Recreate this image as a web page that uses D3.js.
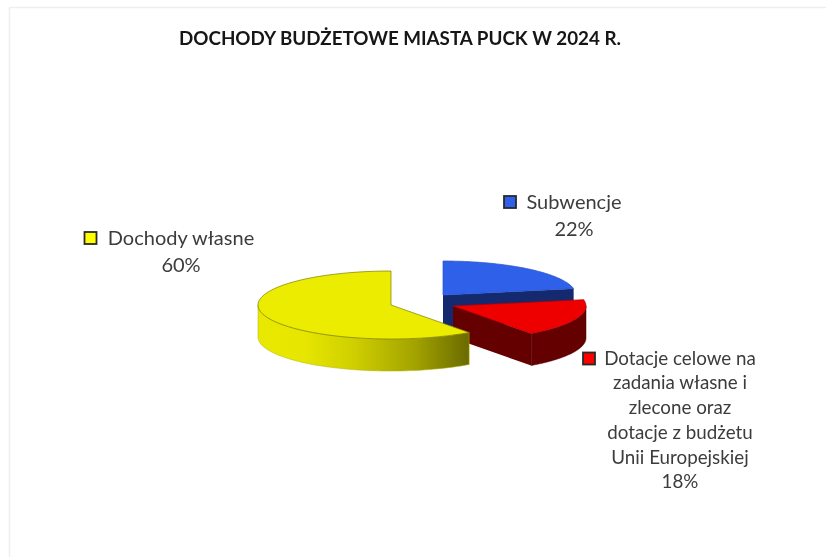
<!DOCTYPE html>
<html>
<head>
<meta charset="utf-8">
<script src="https://cdn.jsdelivr.net/npm/d3@7"></script>
<style>
  html, body { margin: 0; padding: 0; background: #fff; }
  svg { display: block; }
  .blurred { filter: blur(0.55px); }
  text { font-family: Lato, "Open Sans", sans-serif; fill: #3c3c3c; }
</style>
</head>
<body>
<div id="chart"></div>
<script>
const chart_title = "DOCHODY BUDŻETOWE MIASTA PUCK W 2024 R."
const categories = ["Subwencje", "Dotacje celowe", "Dochody własne"]
const values = [22, 18, 60]
const label_lines = [
  ["Subwencje", "22%"],
  ["Dotacje celowe na", "zadania własne i", "zlecone oraz", "dotacje z budżetu", "Unii Europejskiej", "18%"],
  ["Dochody własne", "60%"]
]

// colours per slice, in the order of categories
const top_colors = ["#2f60ea", "#ee0000", "#ecec00"]
const side_colors = ["#14296e", "#640000", "url(#yellow_side)"]
const edge_colors = ["#2a55c8", "#b00000", "#7c7c00"]
const wall_edge_colors = ["#14296e", "#4a0000", "#b0b000"]
const key_colors = ["#2f60ea", "#ff0000", "#ffff00"]

// layout
const width = 826
const height = 557
const rx = 133
const ry = 34
const depth = 32
const centers = [[443, 295], [453, 306], [391, 305]]
const label_pos = [[574, 202], [680, 358], [181, 238]]
const key_pos = [[510, 202], [589, 358.5], [90.5, 238]]
const line_step = [26.5, 24.7, 27]
const label_size = [20, 18.8, 20]
const draw_order = [0, 1, 2]

const svg = d3.select("#chart").append("svg")
  .attr("width", width)
  .attr("height", height)

const grad = svg.append("defs").append("linearGradient")
  .attr("id", "yellow_side")
  .attr("gradientUnits", "userSpaceOnUse")
  .attr("x1", 258).attr("x2", 467)
  .attr("y1", 0).attr("y2", 0)
grad.selectAll("stop")
  .data([[0, "#e8e800"], [0.22, "#e6e600"], [0.45, "#d0d000"], [0.75, "#a3a300"], [1, "#6c6c00"]])
  .enter().append("stop")
  .attr("offset", d => d[0])
  .attr("stop-color", d => d[1])

// page frame
svg.append("path")
  .attr("d", `M9.5,${height}V7.5H${width}`)
  .attr("fill", "none")
  .attr("stroke", "#efefef")
  .attr("stroke-width", 1.5)

const pie = d3.pie().sort(null)
const slices = pie(values)
const plot = svg.append("g").attr("class", "blurred")

// angle is clockwise from 12 o'clock, drop moves down to the base of the pie
function project(center, angle, drop) {
  return [center[0] + rx * Math.sin(angle), center[1] - ry * Math.cos(angle) + drop]
}

function rim(center, a0, a1, drop) {
  const n = 60
  return d3.range(n + 1).map(i => project(center, a0 + (a1 - a0) * i / n, drop))
}

const line = d3.line()

draw_order.forEach(i => {
  const s = slices[i]
  const c = centers[i]
  const g = plot.append("g")
  const a0 = s.startAngle
  const a1 = s.endAngle

  // flat face at the end of the slice, only seen when it turns to the viewer
  if (a1 < Math.PI) {
    const tip = project(c, a1, 0)
    g.append("path")
      .attr("d", line([c, tip, [tip[0], tip[1] + depth], [c[0], c[1] + depth]]) + "Z")
      .attr("fill", side_colors[i])
  }

  // outer wall, only the front half of the rim shows
  const w0 = Math.max(a0, Math.PI / 2)
  const w1 = Math.min(a1, Math.PI * 1.5)
  if (w1 > w0) {
    const upper = rim(c, w0, w1, 0)
    const lower = rim(c, w1, w0, depth)
    g.append("path")
      .attr("d", line(upper.concat(lower)) + "Z")
      .attr("fill", side_colors[i])
      .attr("stroke", wall_edge_colors[i])
      .attr("stroke-width", 0.5)
  }

  const top = [c].concat(rim(c, a0, a1, 0))
  g.append("path")
    .attr("d", line(top) + "Z")
    .attr("fill", top_colors[i])
    .attr("stroke", edge_colors[i])
    .attr("stroke-width", 0.7)
})

// title and labels
const texts = svg.append("g").attr("class", "blurred")

texts.append("text")
  .attr("x", 400)
  .attr("y", 45)
  .attr("text-anchor", "middle")
  .attr("font-size", 18.8)
  .attr("font-weight", 700)
  .style("fill", "#161616")
  .text(chart_title)

categories.forEach((name, i) => {
  const key = key_pos[i]
  texts.append("rect")
    .attr("x", key[0] - 6)
    .attr("y", key[1] - 6)
    .attr("width", 12)
    .attr("height", 12)
    .attr("fill", key_colors[i])
    .attr("stroke", "#2a2a2a")
    .attr("stroke-width", 1.8)

  texts.selectAll(`text.label_${i}`)
    .data(label_lines[i])
    .enter().append("text")
    .attr("class", `label_${i}`)
    .attr("x", label_pos[i][0])
    .attr("y", (d, j) => label_pos[i][1] + j * line_step[i])
    .attr("dy", "0.36em")
    .attr("text-anchor", "middle")
    .attr("font-size", label_size[i])
    .text(d => d)
})
</script>
</body>
</html>
